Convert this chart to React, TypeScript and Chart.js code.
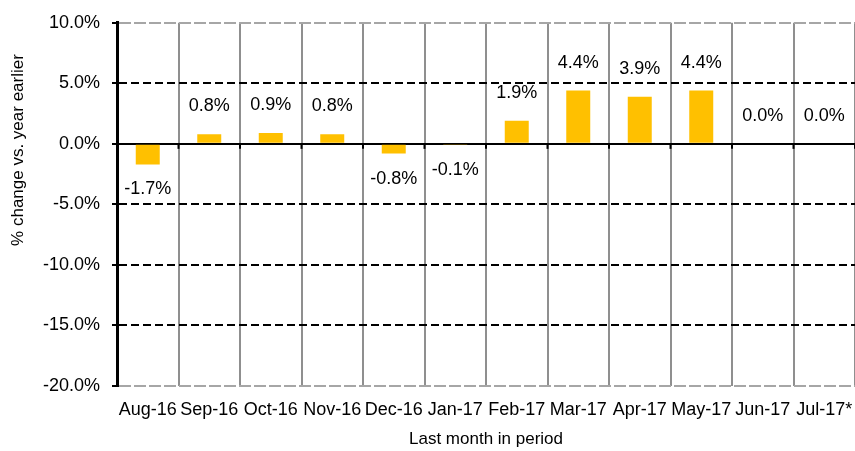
import React, { useEffect, useRef } from "react";
import { Chart, registerables } from "chart.js";

Chart.register(...registerables);

const categories = ["Aug-16", "Sep-16", "Oct-16", "Nov-16", "Dec-16", "Jan-17", "Feb-17", "Mar-17", "Apr-17", "May-17", "Jun-17", "Jul-17*"];
const values = [-1.7, 0.8, 0.9, 0.8, -0.8, -0.1, 1.9, 4.4, 3.9, 4.4, 0.0, 0.0];
const yTicks = [10, 5, 0, -5, -10, -15, -20];
const yTitle = "% change vs. year earlier";
const xTitle = "Last month in period";

const FONT = "'Liberation Sans', Arial, sans-serif";

const labelPlugin = {
  id: "barLabels",
  afterDatasetsDraw(chart: any) {
    const ctx = chart.ctx;
    const meta = chart.getDatasetMeta(0);
    ctx.save();
    ctx.font = `18px ${FONT}`;
    ctx.fillStyle = "#000";
    ctx.textAlign = "center";
    ctx.textBaseline = "middle";
    meta.data.forEach((bar: any, i: number) => {
      const v = values[i];
      const y = v < 0 ? bar.y + 25 : bar.y - 28;
      ctx.fillText(v.toFixed(1) + "%", bar.x, y);
    });
    ctx.restore();
  },
};

const decorPlugin = {
  id: "decor",
  afterDraw(chart: any) {
    const ctx = chart.ctx;
    const xs = chart.scales.x;
    const ys = chart.scales.y;
    const y0 = ys.getPixelForValue(0);
    ctx.save();
    ctx.strokeStyle = "#000";
    ctx.lineWidth = 2;
    for (let i = 0; i <= categories.length; i++) {
      const x = xs.getPixelForValue(i - 0.5);
      ctx.beginPath();
      ctx.moveTo(x, y0);
      ctx.lineTo(x, y0 + 5);
      ctx.stroke();
    }
    // axis titles
    ctx.fillStyle = "#000";
    ctx.font = `17px ${FONT}`;
    ctx.textAlign = "center";
    ctx.textBaseline = "middle";
    ctx.fillText(xTitle, (chart.chartArea.left + chart.chartArea.right) / 2, 439);
    ctx.translate(18, 150);
    ctx.rotate(-Math.PI / 2);
    ctx.fillText(yTitle, 0, 0);
    ctx.restore();
  },
};

export default function App() {
  const ref = useRef<HTMLCanvasElement>(null);
  useEffect(() => {
    document.body.style.margin = "0";
    const chart = new Chart(ref.current as HTMLCanvasElement, {
      type: "bar",
      data: {
        labels: categories,
        datasets: [
          {
            data: values,
            backgroundColor: "#FFC000",
            barPercentage: 0.39,
            categoryPercentage: 1,
          },
        ],
      },
      options: {
        responsive: false,
        animation: false,
        layout: { padding: { top: 19, right: 0, left: 0, bottom: 0 } },
        plugins: { legend: { display: false }, tooltip: { enabled: false } },
        scales: {
          x: {
            offset: true,
            grid: { offset: true, color: "#8f8f8f", lineWidth: 2, drawTicks: false },
            border: { display: false },
            ticks: { color: "#000", font: { family: FONT, size: 18 }, padding: 13, maxRotation: 0, autoSkip: false },
            afterFit(scale: any) {
              scale.height = 65;
              scale.paddingLeft = 0;
              scale.paddingRight = 0;
            },
          },
          y: {
            min: -20,
            max: 10,
            afterBuildTicks(scale: any) {
              scale.ticks = yTicks.map((v) => ({ value: v }));
            },
            grid: {
              color: (c: any) => (c.tick && (c.tick.value === 10 || c.tick.value === -20) ? "#a6a6a6" : "#000"),
              lineWidth: 2,
              tickLength: 5,
              tickColor: "#000",
              tickWidth: 2,
            },
            border: {
              display: true,
              color: "#000",
              width: 3,
              dash: (c: any) => {
                if (!c.tick) return [];
                if (c.tick.value === 0) return [];
                if (c.tick.value === 10 || c.tick.value === -20) return [12, 3];
                return [8, 4];
              },
            },
            ticks: {
              color: "#000",
              font: { family: FONT, size: 18 },
              padding: 12,
              callback: (v: any) => Number(v).toFixed(1) + "%",
            },
            afterFit(scale: any) {
              scale.width = 117;
            },
          },
        },
      },
      plugins: [labelPlugin, decorPlugin],
    });
    return () => chart.destroy();
  }, []);
  return (
    <div style={{ width: 855, height: 451 }}>
      <canvas ref={ref} width={855} height={451} style={{ display: "block" }} />
    </div>
  );
}
